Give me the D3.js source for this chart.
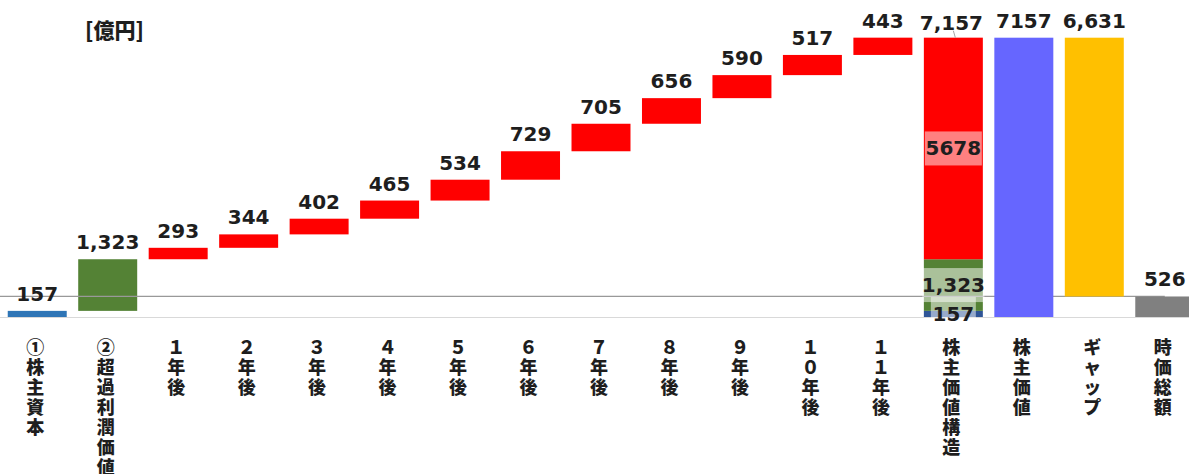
<!DOCTYPE html>
<html>
<head>
<meta charset="utf-8">
<script src="https://cdn.jsdelivr.net/npm/d3@7"></script>
<style>
body { margin: 0; background: #ffffff; }
svg { display: block; }
</style>
</head>
<body>
<svg id="chart"></svg>
<script>
var width = 1189;
var height = 474;

// categories along the x axis
var categories = ["①株主資本", "②超過利潤価値", "１年後", "２年後", "３年後", "４年後",
	"５年後", "６年後", "７年後", "８年後", "９年後", "１０年後", "１１年後",
	"株主価値構造", "株主価値", "ギャップ", "時価総額"];

// values [億円]
var equity = 157;
var excessProfit = 1323;
var yearly = [293, 344, 402, 465, 534, 729, 705, 656, 590, 517, 443];
var structureParts = [157, 1323, 5678];
var structureTotal = 7157;
var shareValue = 7157;
var gap = 6631;
var marketCap = 526;

var unitLabel = "[億円]";

var svg = d3.select("#chart")
.attr("width", width)
.attr("height", height);

var x = d3.scaleBand()
.domain(categories)
.range([2, 1200])
.paddingInner(0.163)
.paddingOuter(0.0815);

var y = d3.scaleLinear()
.domain([0, 8000])
.range([317, 4.8]);

var comma = d3.format(",");
var plain = d3.format("d");

// waterfall pieces
var bars = [];
bars.push({ cat: categories[0], y0: 0, y1: equity, color: "#2e75b6", label: comma(equity) });
bars.push({ cat: categories[1], y0: equity, y1: equity + excessProfit, color: "#548235",
	label: comma(excessProfit) });
var running = equity + excessProfit;
yearly.forEach(function (v, i) {
	bars.push({ cat: categories[2 + i], y0: running, y1: running + v, color: "#ff0000",
		label: comma(v) });
	running += v;
});

// stacked structure column
var stackColors = ["#2f5597", "#548235", "#ff0000"];
var stackFmt = [comma, comma, plain];
var stack = [];
var base = 0;
structureParts.forEach(function (v, i) {
	stack.push({ cat: categories[13], y0: base, y1: base + v, color: stackColors[i],
		label: stackFmt[i](v) });
	base += v;
});

var lastBars = [
	{ cat: categories[14], y0: 0, y1: shareValue, color: "#6666ff", label: plain(shareValue) },
	{ cat: categories[15], y0: marketCap, y1: marketCap + gap, color: "#ffc000", label: comma(gap) },
	{ cat: categories[16], y0: 0, y1: marketCap, color: "#808080", label: comma(marketCap) }
];

// bottom axis line
svg.append("line")
.attr("x1", 0)
.attr("x2", width)
.attr("y1", y(0) + 0.5)
.attr("y2", y(0) + 0.5)
.style("stroke", "#d9d9d9")
.style("stroke-width", 1);

function drawBars(list) {
	svg.append("g").selectAll("rect")
	.data(list)
	.enter().append("rect")
	.attr("x", function (d) { return x(d.cat); })
	.attr("y", function (d) { return y(d.y1); })
	.attr("width", x.bandwidth())
	.attr("height", function (d) { return y(d.y0) - y(d.y1); })
	.style("fill", function (d) { return d.color; });
}

drawBars(bars);
drawBars(stack);

// market cap reference line
svg.append("line")
.attr("x1", 0)
.attr("x2", x(categories[16]) + x.bandwidth() / 2)
.attr("y1", y(marketCap))
.attr("y2", y(marketCap))
.style("stroke", "#999999")
.style("stroke-width", 1.3);

drawBars(lastBars);

var numFont = "'DejaVu Sans', 'Noto Sans CJK JP', sans-serif";

// labels above bars
svg.append("g").selectAll("text")
.data(bars.concat(lastBars))
.enter().append("text")
.attr("x", function (d) { return x(d.cat) + x.bandwidth() / 2; })
.attr("y", function (d) { return y(d.y1) - 10; })
.style("font-family", numFont)
.style("font-weight", "bold")
.style("font-size", "20px")
.style("fill", "#1e1e1e")
.style("text-anchor", "middle")
.text(function (d) { return d.label; });

// labels inside the stacked column with light boxes
var boxW = [45, 62, 57];
var stackLabel = svg.append("g").selectAll("g")
.data(stack)
.enter().append("g")
.attr("transform", function (d) {
	return "translate(" + (x(d.cat) + x.bandwidth() / 2) + "," + y((d.y0 + d.y1) / 2) + ")";
});

stackLabel.append("rect")
.attr("x", function (d, i) { return -boxW[i] / 2; })
.attr("y", -17)
.attr("width", function (d, i) { return boxW[i]; })
.attr("height", 34)
.style("fill", "#ffffff")
.style("fill-opacity", 0.5);

stackLabel.append("text")
.attr("y", 7)
.style("font-family", numFont)
.style("font-weight", "bold")
.style("font-size", "20px")
.style("fill", "#1e1e1e")
.style("text-anchor", "middle")
.text(function (d) { return d.label; });

// total above the structure column, with a small leader
var cx = x(categories[13]) + x.bandwidth() / 2;
svg.append("line")
.attr("x1", cx)
.attr("x2", cx + 2)
.attr("y1", y(structureTotal) - 7)
.attr("y2", y(structureTotal))
.style("stroke", "#a6a6a6")
.style("stroke-width", 1);

svg.append("text")
.attr("x", cx - 2)
.attr("y", y(structureTotal) - 8)
.style("font-family", numFont)
.style("font-weight", "bold")
.style("font-size", "20px")
.style("fill", "#1e1e1e")
.style("text-anchor", "middle")
.text(comma(structureTotal));

// unit
svg.append("text")
.attr("x", 85)
.attr("y", 38)
.style("font-family", "'Noto Sans CJK JP', sans-serif")
.style("font-weight", "900")
.style("font-size", "21px")
.style("fill", "#1e1e1e")
.text(unitLabel);

// vertical category labels, one character per line
var catText = svg.append("g").selectAll("text")
.data(categories)
.enter().append("text")
.style("font-family", "'Noto Sans CJK JP', sans-serif")
.style("font-weight", "900")
.style("font-size", "18px")
.style("fill", "#1e1e1e")
.style("text-anchor", "middle");

catText.each(function (d) {
	var t = d3.select(this);
	var cxl = x(d) + x.bandwidth() / 2 - 2;
	Array.from(d).forEach(function (ch, k) {
		t.append("tspan")
		.attr("x", cxl)
		.attr("y", 354 + k * 20)
		.text(ch);
	});
});
</script>
</body>
</html>
